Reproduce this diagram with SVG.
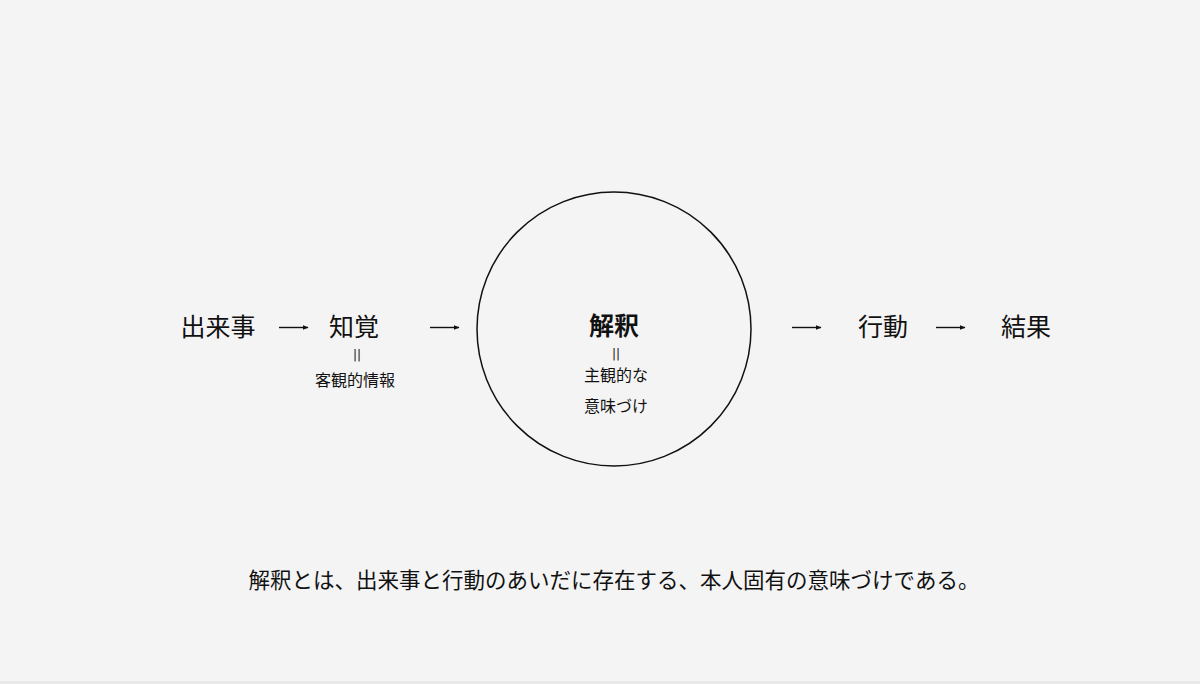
<svg xmlns="http://www.w3.org/2000/svg" width="1200" height="684" viewBox="0 0 1200 684">
<defs>
<style>
.t{font-family:"Noto Sans CJK JP","Noto Sans CJK SC",sans-serif;fill:#111;text-anchor:middle}
.big{font-size:25px}
.sm{font-size:16px}
.eq{font-family:"DejaVu Sans",sans-serif;font-size:12px}
.con line{stroke:#111;stroke-width:1.4;marker-end:url(#ah)}
</style>
<marker id="ah" viewBox="0 0 10 10" refX="9" refY="5" markerWidth="4" markerHeight="4" orient="auto" markerUnits="strokeWidth">
<path d="M0,1 L10,5 L0,9 Z" fill="#111"/>
</marker>
</defs>
<rect width="1200" height="684" fill="#f4f4f4"/>
<rect y="681" width="1200" height="3" fill="#e8e8e8"/>
<g id="connectors" class="con">
<line x1="279" y1="327.5" x2="308" y2="327.5"/>
<line x1="430" y1="327.5" x2="459" y2="327.5"/>
<line x1="792" y1="327.5" x2="821" y2="327.5"/>
<line x1="936" y1="327.5" x2="965" y2="327.5"/>
</g>
<g id="event"><text class="t big" x="218" y="336">出来事</text></g>
<g id="perception">
<text class="t big" x="354" y="336">知覚</text>
<text class="t eq" x="357" y="359">||</text>
<text class="t sm" x="355" y="386">客観的情報</text>
</g>
<g id="interpretation">
<circle cx="614" cy="329" r="137" fill="none" stroke="#111" stroke-width="1.5"/>
<text class="t big" x="614" y="335" font-weight="bold">解釈</text>
<text class="t eq" x="616" y="358">||</text>
<text class="t sm" x="616" y="381">主観的な</text>
<text class="t sm" x="616" y="412">意味づけ</text>
</g>
<g id="action"><text class="t big" x="883" y="336">行動</text></g>
<g id="result"><text class="t big" x="1026" y="336">結果</text></g>
<g id="caption"><text class="t" x="614" y="588" font-size="21.5">解釈とは、出来事と行動のあいだに存在する、本人固有の意味づけである。</text></g>
</svg>
